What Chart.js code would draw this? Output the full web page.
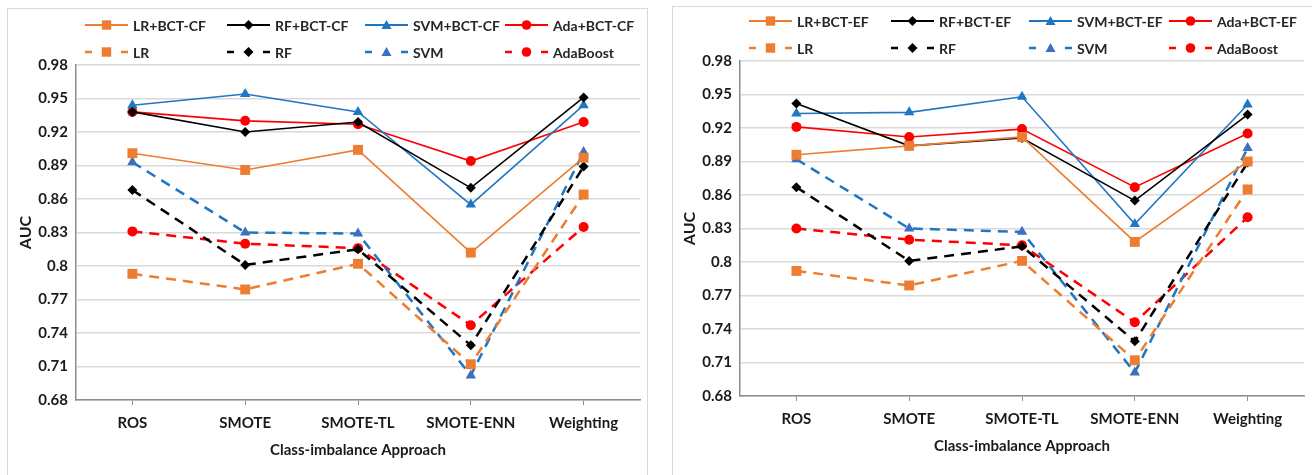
<!DOCTYPE html>
<html lang="en">
<head>
  <meta charset="UTF-8">
  <title>AUC by class-imbalance approach</title>
  <script src="https://cdn.jsdelivr.net/npm/chart.js"></script>
  <style>
    body { margin: 0; background: #fff; width: 1312px; height: 475px; position: relative; overflow: hidden; }
    .panel { position: absolute; border: 1px solid #d9d9d9; }
    canvas { position: absolute; }
  </style>
</head>
<body>
  <div class="panel" style="left:7px; top:8px; width:639px; height:480px;"></div>
  <div class="panel" style="left:672px; top:6px; width:639px; height:480px;"></div>
  <canvas id="chartCF" width="640" height="467" style="left:7px; top:8px;"></canvas>
  <canvas id="chartEF" width="640" height="467" style="left:671px; top:4px;"></canvas>

  <script>
    const categories = ['ROS', 'SMOTE', 'SMOTE-TL', 'SMOTE-ENN', 'Weighting'];
    const aucTicks = [0.68, 0.71, 0.74, 0.77, 0.8, 0.83, 0.86, 0.89, 0.92, 0.95, 0.98];

    // left chart (CF)
    const cfLabels = ['LR+BCT-CF', 'RF+BCT-CF', 'SVM+BCT-CF', 'Ada+BCT-CF', 'LR', 'RF', 'SVM', 'AdaBoost'];
    const lrBctCf  = [0.901, 0.886, 0.904, 0.812, 0.897];
    const rfBctCf  = [0.938, 0.920, 0.929, 0.870, 0.951];
    const svmBctCf = [0.944, 0.954, 0.938, 0.855, 0.944];
    const adaBctCf = [0.938, 0.930, 0.927, 0.894, 0.929];
    const lrCf  = [0.793, 0.779, 0.802, 0.712, 0.864];
    const rfCf  = [0.868, 0.801, 0.815, 0.729, 0.889];
    const svmCf = [0.893, 0.830, 0.829, 0.702, 0.902];
    const adaCf = [0.831, 0.820, 0.816, 0.747, 0.835];

    // right chart (EF)
    const efLabels = ['LR+BCT-EF', 'RF+BCT-EF', 'SVM+BCT-EF', 'Ada+BCT-EF', 'LR', 'RF', 'SVM', 'AdaBoost'];
    const lrBctEf  = [0.896, 0.904, 0.912, 0.818, 0.890];
    const rfBctEf  = [0.942, 0.904, 0.911, 0.855, 0.932];
    const svmBctEf = [0.933, 0.934, 0.948, 0.834, 0.941];
    const adaBctEf = [0.921, 0.912, 0.919, 0.867, 0.915];
    const lrEf  = [0.792, 0.779, 0.801, 0.712, 0.865];
    const rfEf  = [0.867, 0.801, 0.814, 0.729, 0.889];
    const svmEf = [0.892, 0.830, 0.827, 0.701, 0.902];
    const adaEf = [0.830, 0.820, 0.815, 0.746, 0.840];

    const FONT = 'Lato, "Open Sans", sans-serif';
    const colors = ['#ED7D31', '#000000', '#1F77C4', '#FF0000'];
    const markers = ['rect', 'rectRot', 'triangle', 'circle'];
    const radii = [7, 5, 6, 5];
    const dash = [10, 7];

    function buildSets(labels, series) {
      return series.map((data, i) => {
        const k = i % 4;
        const dashed = i >= 4;
        return {
          label: labels[i],
          data: data,
          borderColor: colors[k],
          backgroundColor: k === 2 && dashed ? '#3D6FC0' : colors[k],
          pointBackgroundColor: k === 2 && dashed ? '#3D6FC0' : colors[k],
          pointBorderColor: k === 2 && dashed ? '#3D6FC0' : colors[k],
          borderWidth: dashed ? 2.5 : 1.6,
          borderDash: dashed ? dash : [],
          pointStyle: markers[k],
          pointRadius: radii[k],
          pointHoverRadius: radii[k],
          pointBorderWidth: 0,
          tension: 0
        };
      });
    }

    function drawMarker(ctx, style, x, y, s) {
      ctx.beginPath();
      if (style === 'rect') {
        ctx.rect(x - s, y - s, 2 * s, 2 * s);
      } else if (style === 'rectRot') {
        ctx.moveTo(x, y - s); ctx.lineTo(x + s, y); ctx.lineTo(x, y + s); ctx.lineTo(x - s, y);
        ctx.closePath();
      } else if (style === 'triangle') {
        ctx.moveTo(x, y - s); ctx.lineTo(x + s, y + s * 0.8); ctx.lineTo(x - s, y + s * 0.8);
        ctx.closePath();
      } else {
        ctx.arc(x, y, s, 0, Math.PI * 2);
      }
      ctx.fill();
    }

    // legend laid out as a 4 x 2 grid like the original
    const gridLegend = {
      id: 'gridLegend',
      afterDraw(chart) {
        const ctx = chart.ctx;
        const colX = [78, 220, 358, 498];
        const rowY = [17, 44];
        const markSize = [4.7, 5, 5, 4.8];
        ctx.save();
        chart.data.datasets.forEach((ds, i) => {
          const k = i % 4;
          const x = colX[k];
          const y = rowY[i < 4 ? 0 : 1];
          ctx.strokeStyle = ds.borderColor;
          ctx.fillStyle = ds.pointBackgroundColor;
          ctx.lineWidth = i < 4 ? 2 : 2.5;
          ctx.beginPath();
          if (i < 4) {
            ctx.moveTo(x, y); ctx.lineTo(x + 43, y);
          } else {
            ctx.moveTo(x, y); ctx.lineTo(x + 7, y);
            ctx.moveTo(x + 36, y); ctx.lineTo(x + 43, y);
          }
          ctx.stroke();
          drawMarker(ctx, ds.pointStyle, x + 21.5, y, markSize[k]);
          ctx.fillStyle = '#262626';
          ctx.font = 'bold 14px ' + FONT;
          ctx.textBaseline = 'middle';
          ctx.textAlign = 'left';
          ctx.fillText(ds.label, x + 48, y + 1);
        });
        ctx.restore();
      }
    };

    function makeChart(id, labels, series) {
      return new Chart(document.getElementById(id), {
        type: 'line',
        data: { labels: categories, datasets: buildSets(labels, series) },
        options: {
          responsive: false,
          animation: false,
          layout: { padding: { left: 0, right: 2, top: 57, bottom: 0 } },
          plugins: { legend: { display: false }, tooltip: { enabled: false } },
          scales: {
            x: {
              offset: true,
              grid: { drawOnChartArea: false, drawTicks: true, tickLength: 5, color: '#8c8c8c' },
              border: { color: '#8c8c8c', width: 1.5 },
              ticks: { padding: 9, color: '#1a1a1a', font: { family: FONT, size: 15, weight: 'bold' } },
              title: {
                display: true, text: 'Class-imbalance Approach', color: '#1a1a1a',
                font: { family: FONT, size: 15, weight: 'bold' }, padding: { top: 0, bottom: 16 }
              },
              afterFit(scale) { scale.height = 75; }
            },
            y: {
              min: aucTicks[0],
              max: aucTicks[aucTicks.length - 1],
              afterBuildTicks(scale) { scale.ticks = aucTicks.map(v => ({ value: v })); },
              grid: { color: '#d9d9d9', lineWidth: 1.5, drawTicks: false },
              border: { color: '#8c8c8c', width: 1.5 },
              ticks: {
                padding: 8, color: '#1a1a1a',
                font: { family: FONT, size: 15, weight: 'bold' },
                callback: v => String(parseFloat(Number(v).toFixed(2)))
              },
              title: {
                display: true, text: 'AUC', color: '#1a1a1a',
                font: { family: FONT, size: 16, weight: 'bold' }, padding: { top: 9, bottom: 0 }
              },
              afterFit(scale) { scale.width = 69; }
            }
          }
        },
        plugins: [gridLegend]
      });
    }

    makeChart('chartCF', cfLabels, [lrBctCf, rfBctCf, svmBctCf, adaBctCf, lrCf, rfCf, svmCf, adaCf]);
    makeChart('chartEF', efLabels, [lrBctEf, rfBctEf, svmBctEf, adaBctEf, lrEf, rfEf, svmEf, adaEf]);
  </script>
</body>
</html>
